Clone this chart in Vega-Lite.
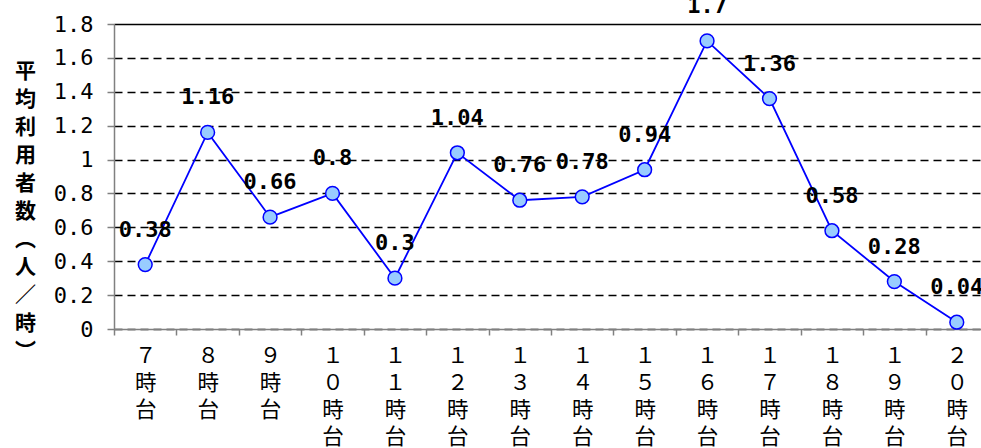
{
  "$schema": "https://vega.github.io/schema/vega-lite/v6.json",
  "autosize": {"type": "none"},
  "width": 874,
  "height": 305,
  "padding": {"left": 114, "top": 24, "right": 0, "bottom": 119},
  "background": "white",
  "config": {"view": {"stroke": null}},
  "data": {"values": [
    {"hour": "７時台", "v": 0.38},
    {"hour": "８時台", "v": 1.16},
    {"hour": "９時台", "v": 0.66},
    {"hour": "１０時台", "v": 0.8},
    {"hour": "１１時台", "v": 0.3},
    {"hour": "１２時台", "v": 1.04},
    {"hour": "１３時台", "v": 0.76},
    {"hour": "１４時台", "v": 0.78},
    {"hour": "１５時台", "v": 0.94},
    {"hour": "１６時台", "v": 1.7},
    {"hour": "１７時台", "v": 1.36},
    {"hour": "１８時台", "v": 0.58},
    {"hour": "１９時台", "v": 0.28},
    {"hour": "２０時台", "v": 0.04}
  ]},
  "encoding": {
    "x": {
      "field": "hour", "type": "nominal", "sort": null,
      "scale": {"paddingInner": 0, "paddingOuter": 0},
      "axis": {
        "title": null, "labelAngle": 0,
        "labelExpr": "split(datum.label, '')",
        "labelFont": "Noto Sans CJK JP", "labelFontSize": 21.5, "labelLineHeight": 27,
        "labelColor": "black", "labelBaseline": "top", "labelPadding": 10,
        "tickBand": "extent", "tickColor": "#808080", "tickSize": 6, "tickWidth": 1.5,
        "domainColor": "#808080", "domainWidth": 1.5, "grid": false
      }
    },
    "y": {
      "field": "v", "type": "quantitative",
      "scale": {"domain": [0, 1.8], "nice": false},
      "axis": {
        "values": [0, 0.2, 0.4, 0.6, 0.8, 1, 1.2, 1.4, 1.6, 1.8],
        "labelExpr": "datum.value == 0 ? '0' : datum.value == 1 ? '1' : format(datum.value, '.1f')",
        "labelFont": "DejaVu Sans Mono", "labelFontSize": 22, "labelColor": "black", "labelPadding": 14,
        "tickColor": "#808080", "tickSize": 7, "tickWidth": 1.5,
        "domainColor": "#808080", "domainWidth": 1.5,
        "grid": true, "gridColor": "black", "gridWidth": 1.5,
        "gridDash": {"condition": {"test": "datum.value >= 1.8", "value": []}, "value": [8, 5]},
        "title": ["平", "均", "利", "用", "者", "数", "︵", "人", "／", "時", "︶"],
        "titleFont": "Noto Sans CJK JP", "titleFontSize": 21, "titleFontWeight": "bold",
        "titleLineHeight": 28, "titleAngle": 0, "titleAlign": "center", "titleBaseline": "top",
        "titleX": -89, "titleY": 36, "titleColor": "black"
      }
    }
  },
  "layer": [
    {"mark": {"type": "line", "color": "#0000ff", "strokeWidth": 1.8}},
    {"mark": {"type": "point", "shape": "circle", "filled": true, "fill": "#99ccff", "stroke": "#0000ff", "strokeWidth": 1.5, "size": 190, "opacity": 1}},
    {"mark": {"type": "text", "font": "DejaVu Sans Mono", "fontWeight": "bold", "fontSize": 22, "color": "black", "baseline": "middle", "dy": -35},
     "encoding": {"text": {"field": "v", "type": "quantitative", "format": ".2~f"}}}
  ]
}
